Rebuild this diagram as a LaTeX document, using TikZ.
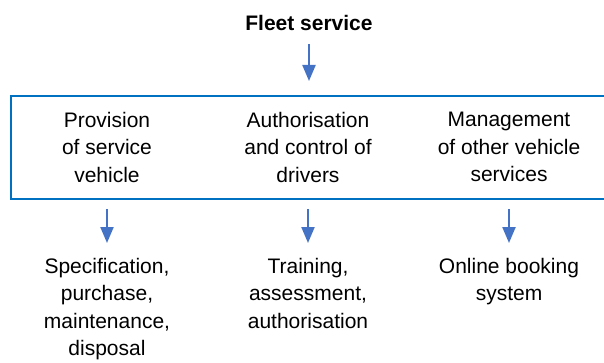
\documentclass[tikz,border=0pt]{standalone}
\usepackage{fontspec}
\setmainfont{Liberation Sans}
\usetikzlibrary{arrows.meta}

\definecolor{frameblue}{RGB}{0,112,192}
\definecolor{arrowblue}{RGB}{68,114,196}

\begin{document}
\begin{tikzpicture}
	[
	x = {(1pt, 0pt)},
	y = {(0pt, -1pt)},
	label/.style = {font = \fontsize{21}{27.4}\selectfont, align = center, inner sep = 0pt},
	title/.style = {label, font = \bfseries\fontsize{21}{27.4}\selectfont},
	frame/.style = {draw = frameblue, line width = 2pt, inner sep = 0pt},
	flow/.style = {draw = arrowblue, line width = 2.2pt, -{Triangle[length = 16pt, width = 13pt]}}]
	
	\useasboundingbox (0, 0) rectangle (604, 363);
	
	%% Drawing the top and the frame
	
	\node[title] (fleet) at (309, 23) {Fleet service};
	\node[frame, anchor = north west, minimum width = 610pt, minimum height = 103pt] (box) at (10, 95) {};
	
	\node[label, anchor = north] (provision) at (107, 112) {Provision\\of service\\vehicle};
	\node[label, anchor = north] (authorisation) at (308, 112) {Authorisation\\and control of\\drivers};
	\node[label, anchor = north] (management) at (509, 112) {Management\\of other vehicle\\services};
	
	%% Drawing the tasks below
	
	\node[label, anchor = north] (specification) at (107, 258) {Specification,\\purchase,\\maintenance,\\disposal};
	\node[label, anchor = north] (training) at (308, 258) {Training,\\assessment,\\authorisation};
	\node[label, anchor = north] (booking) at (509, 258) {Online booking\\system};
	
	%% Drawing the arrows
	
	\draw[flow, shorten <= 13pt, shorten >= 14pt] (fleet.south) -- (fleet.south |- box.north);
	\draw[flow, shorten <= 9pt, shorten >= 15pt] (box.south -| specification.north) -- (specification.north);
	\draw[flow, shorten <= 9pt, shorten >= 15pt] (box.south -| training.north) -- (training.north);
	\draw[flow, shorten <= 9pt, shorten >= 15pt] (box.south -| booking.north) -- (booking.north);
\end{tikzpicture}
\end{document}
